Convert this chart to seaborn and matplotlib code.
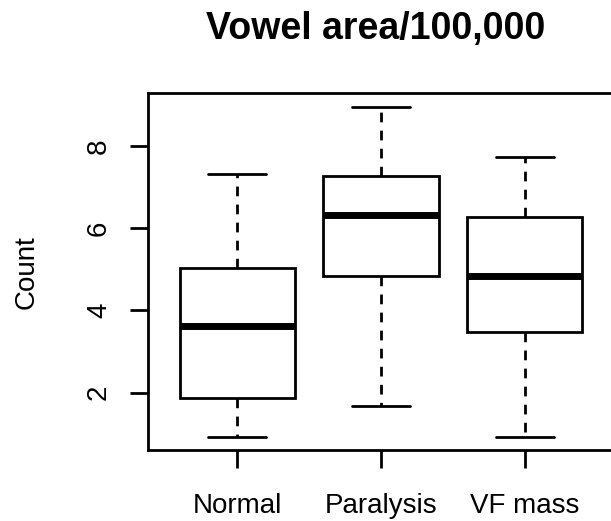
import matplotlib
matplotlib.use("Agg")
import matplotlib.pyplot as plt
import pandas as pd
import seaborn as sns

# five-number summaries (min, Q1, median, Q3, max)
groups = ["Normal", "Paralysis", "VF mass"]
normal = [0.92, 1.87, 3.62, 5.04, 7.33]
paralysis = [1.67, 4.84, 6.32, 7.28, 8.96]
vf_mass = [0.92, 3.48, 4.84, 6.28, 7.74]
y_ticks = [2, 4, 6, 8]

df = pd.DataFrame({
    "group": [g for g, v in zip(groups, [normal, paralysis, vf_mass]) for _ in v],
    "count": normal + paralysis + vf_mass,
})

sns.set_style("white")
plt.rcParams["font.family"] = ["Liberation Sans", "DejaVu Sans"]
plt.rcParams["text.color"] = "black"
plt.rcParams["xtick.color"] = "black"
plt.rcParams["ytick.color"] = "black"

fig = plt.figure(figsize=(6.11, 5.21), dpi=100)
ax = fig.add_axes([148 / 611, 71 / 521, 466 / 611, 357 / 521])

sns.boxplot(
    data=df, x="group", y="count", order=groups, ax=ax,
    color="white", linecolor="black", linewidth=2, width=0.8, whis=1.5,
    showfliers=False,
    whiskerprops={"linestyle": (0, (3.5, 3)), "linewidth": 2},
    capprops={"linewidth": 2},
    medianprops={"linewidth": 5, "color": "black"},
    boxprops={"facecolor": "white", "edgecolor": "black", "linewidth": 2},
)

ax.set_xlim(-0.62, 2.62)
ax.set_ylim(0.6, 9.3)
ax.set_yticks(y_ticks)
ax.set_yticklabels([str(t) for t in y_ticks], rotation=90, va="center")
ax.tick_params(axis="both", direction="out", length=13, width=2,
               labelsize=20, labelcolor="black", bottom=True, left=True)
ax.tick_params(axis="y", pad=13)
ax.tick_params(axis="x", pad=18)
for s in ax.spines.values():
    s.set_visible(True)
    s.set_color("black")
    s.set_linewidth(2)

ax.set_xlabel("")
ax.set_ylabel("")
fig.text(27 / 611, 1 - 272 / 521, "Count", rotation=90, ha="center", va="center",
         fontsize=20)
fig.text(376 / 611, 1 - 29 / 521, "Vowel area/100,000", ha="center", va="center",
         fontsize=27, fontweight="bold")

fig.savefig("out.png", dpi=100)
